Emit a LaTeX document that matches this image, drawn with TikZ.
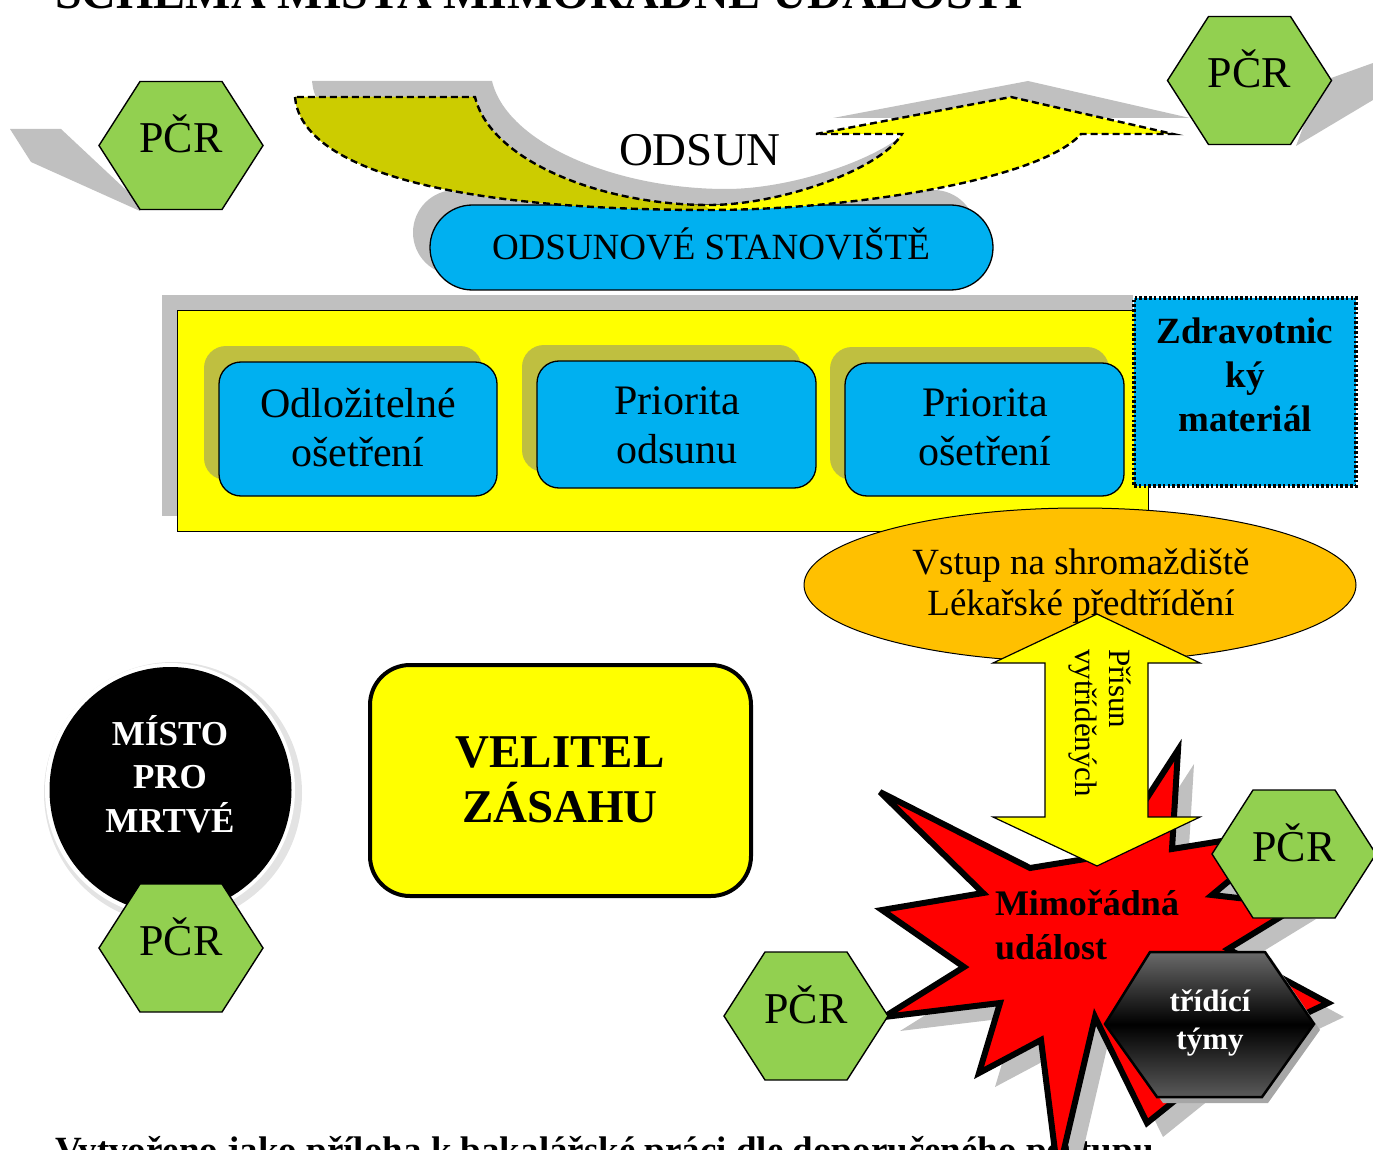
\documentclass[tikz,border=0pt]{standalone}
\usepackage{fontspec}
\setmainfont{Liberation Serif}
\usetikzlibrary{shapes.geometric,shapes.misc}
\definecolor{hexgreen}{HTML}{92D050}
\definecolor{skyb}{HTML}{00B0F0}
\definecolor{yel}{HTML}{FFFF00}
\definecolor{darkyel}{HTML}{CCCC00}
\definecolor{orng}{HTML}{FFC000}
\definecolor{shgray}{HTML}{C0C0C0}
\definecolor{olivesh}{HTML}{BFBF40}
\definecolor{redx}{HTML}{FF0000}
\definecolor{hexdark}{HTML}{6A6A6A}
\definecolor{hexdarkb}{HTML}{5A5A5A}
\tikzset{
  txt/.style={inner sep=0pt, outer sep=0pt, align=center},
  shp/.style={inner sep=0pt, outer sep=0pt},
  pcrtext/.style={anchor=base, inner sep=0pt, font=\fontsize{44}{44}\selectfont},
  pcrhex/.pic={
    \filldraw[fill=hexgreen, draw=black, line width=1.4] (-82,0) -- (-41,-64) -- (41,-64) -- (82,0) -- (41,64) -- (-41,64) -- cycle;
    \node[pcrtext] (-t) at (0,7) {PČR};
  },
  bluebox/.style={shp, rounded corners=22, fill=skyb, draw=black, line width=1.3},
  olivebox/.style={shp, rounded corners=22, fill=olivesh},
}
\newcommand\odsunpath{(295,97) .. controls (300,160) and (420,210) .. (709,210) .. controls (850,210) and (1040,180) .. (1081,134) -- (1173,134) -- (1011,97) -- (816,134) -- (902,134) .. controls (880,170) and (780,205) .. (709,205) .. controls (600,205) and (490,160) .. (475,97) -- cycle}
\newcommand\starpath{(880,792) -- (1030,868) -- (1110,855) -- (1178,750) -- (1172,849) -- (1290,830) -- (1212,895) -- (1300,905) -- (1228,949) -- (1328,1003) -- (1250,1040) -- (1147,1123) -- (1095,1017) -- (1058,1175) -- (1041,1040) -- (979,1073) -- (1000,1003) -- (884,1017) -- (964,967) -- (882,910) -- (983,893) -- cycle}
\newcommand\tripath{(1105,1024) -- (1150,952) -- (1265,952) -- (1314,1024) -- (1262,1097) -- (1157,1097) -- cycle}
\begin{document}
\begin{tikzpicture}[x=1pt,y=-1pt]
\useasboundingbox (0,0) rectangle (1373,1150);
\begin{scope}
\clip (0,0) rectangle (1373,1150);

% title
\node[anchor=base west, inner sep=0pt, font=\bfseries\fontsize{48}{48}\selectfont] (title) at (55,9) {SCHÉMA MÍSTA MIMOŘÁDNÉ UDÁLOSTI};

% top hexagons with shadows
\fill[shgray] (10,129) -- (61,129) -- (140,203) -- (140,211) -- (31,162) -- cycle;
\fill[shgray] (1320,82) -- (1373,63) -- (1373,100) -- (1296,146) -- cycle;
\pic (pcrA) at (181,145.5) {pcrhex};
\pic (pcrB) at (1249.5,80.5) {pcrhex};

% odsunove stanoviste
\node[shp, rounded rectangle, fill=shgray, minimum width=563, minimum height=85] (stansh) at (694.5,232.5) {};
\node[shp, rounded rectangle, fill=skyb, draw=black, line width=1.3, minimum width=563, minimum height=85] (stan) at (711.5,247.5) {};
\node[txt, anchor=base, font=\fontsize{37}{37}\selectfont] (stantxt) at (711,260) {ODSUNOVÉ STANOVIŠTĚ};

% odsun arrow
\fill[shgray, shift={(17,-16)}] \odsunpath;
\begin{scope}
  \clip \odsunpath;
  \fill[yel] (250,60) rectangle (1250,260);
  \fill[darkyel] (250,60) -- (701,60) -- (701,203) -- (716,214) -- (250,214) -- cycle;
\end{scope}
\draw[black, line width=2.4, dash pattern=on 7pt off 4pt] \odsunpath;
\node[txt, anchor=base, font=\fontsize{47}{47}\selectfont] (odsun) at (700,166) {ODSUN};

% big yellow frame
\fill[shgray] (162,295) rectangle (1133,516);
\node[shp, fill=yel, draw=black, line width=1, minimum width=971, minimum height=221] (frame) at (662.5,420.5) {};

\node[olivebox, minimum width=278, minimum height=134] (b1s) at (343,413) {};
\node[bluebox, minimum width=278, minimum height=134] (b1) at (358,429) {};
\node[txt, anchor=north, font=\fontsize{42}{49}\selectfont] (b1t) at (358,388.5) {Odložitelné\\ošetření};

\node[olivebox, minimum width=279, minimum height=127] (b2s) at (661.5,408.5) {};
\node[bluebox, minimum width=279, minimum height=127] (b2) at (676.5,424.5) {};
\node[txt, anchor=north, font=\fontsize{42}{49}\selectfont] (b2t) at (677,386.5) {Priorita\\odsunu};

\node[olivebox, minimum width=279, minimum height=133] (b3s) at (969.5,413.5) {};
\node[bluebox, minimum width=279, minimum height=133] (b3) at (984.5,429.5) {};
\node[txt, anchor=north, font=\fontsize{42}{49}\selectfont] (b3t) at (985,389) {Priorita\\ošetření};

% zdravotnicky material
\node[shp, fill=skyb, draw=black, line width=3.2, dash pattern=on 2.6pt off 2.2pt, minimum width=222, minimum height=188] (zdrav) at (1245,392) {};
\node[txt, anchor=north, font=\bfseries\fontsize{37}{44}\selectfont] (zdravt) at (1245,318) {Zdravotnic\\ký\\materiál};

% shromazdiste
\node[shp, ellipse, fill=orng, draw=black, line width=1, minimum width=552, minimum height=154] (shrom) at (1080,585) {};
\node[txt, anchor=north, font=\fontsize{37}{41}\selectfont] (shromt) at (1081,549) {Vstup na shromaždiště\\Lékařské předtřídění};

% misto pro mrtve
\fill[gray!22] (173,793) ellipse [x radius=129, y radius=131];
\fill[white] (170,790) ellipse [x radius=125, y radius=127];
\node[shp, ellipse, fill=black, minimum width=242, minimum height=246] (misto) at (170.5,790) {};
\node[txt, anchor=north, text=white, font=\bfseries\fontsize{35}{43.5}\selectfont] (mistot) at (170,715) {MÍSTO\\PRO\\MRTVÉ};
\pic (pcrE) at (181,948) {pcrhex};

% velitel zasahu
\node[shp, rounded corners=40, fill=yel, draw=black, line width=4, minimum width=381, minimum height=231] (velitel) at (560.5,780.5) {};
\node[txt, anchor=north, font=\bfseries\fontsize{47}{55}\selectfont] (velt) at (560,737) {VELITEL\\ZÁSAHU};

% footer
\node[anchor=base west, inner sep=0pt, font=\bfseries\fontsize{37}{37}\selectfont] (foot) at (55,1162) {Vytvořeno jako příloha k bakalářské práci dle doporučeného postupu};

% star
\fill[shgray, shift={(16,14)}] \starpath;
\filldraw[fill=redx, draw=black, line width=6, line join=miter, miter limit=5] \starpath;

% double arrow
\filldraw[fill=yel, draw=black, line width=1.2] (1097,614) -- (1200,663) -- (1148,663) -- (1148,817) -- (1200,817) -- (1097,866) -- (993,817) -- (1045,817) -- (1045,663) -- (993,663) -- cycle;
\node[txt, align=left, rotate=-90, anchor=north west, font=\fontsize{31}{34}\selectfont] (prisun) at (1131,649) {Přísun\\vytříděných};

\node[txt, align=left, anchor=north west, font=\bfseries\fontsize{36}{44}\selectfont] (mu) at (995,890) {Mimořádná\\událost};

% lower hexagons
\pic (pcrC) at (1294,854) {pcrhex};
\pic (pcrD) at (806,1016) {pcrhex};

% tridici tymy
\fill[gray!70, shift={(6,6)}] \tripath;
\shade[top color=hexdark, bottom color=hexdarkb, middle color=black] \tripath;
\draw[black, line width=2.5, line join=miter] \tripath;
\node[txt, anchor=north, text=white, font=\bfseries\fontsize{31}{38}\selectfont] (tridt) at (1210,990) {třídící\\týmy};

\end{scope}
\end{tikzpicture}
\end{document}
